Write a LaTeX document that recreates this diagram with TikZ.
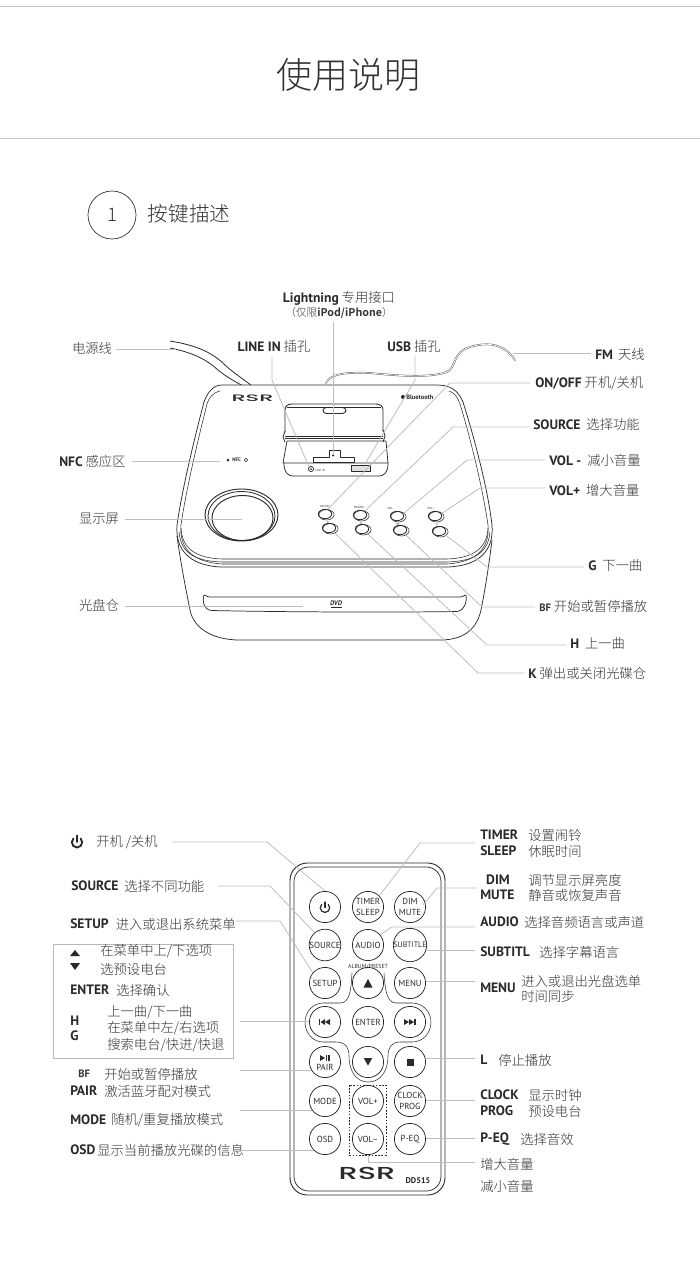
\documentclass[tikz,border=0pt]{standalone}
\usepackage{fontspec}
\setmainfont{Noto Sans CJK SC}[UprightFont=* Light]
\newfontfamily\ltnf{PT Sans}
\newfontfamily\btnf{PT Sans}
\newfontfamily\logof{Poppins}[UprightFont=* Medium]
\usetikzlibrary{shapes.geometric,arrows.meta}
\definecolor{ink}{HTML}{2A2A2A}
\definecolor{txt}{HTML}{333333}
\definecolor{callc}{HTML}{BEBEBE}
\newcommand{\ltn}[1]{{\ltnf\bfseries\fontsize{10.2pt}{12pt}\selectfont\color{ink}#1}}
\tikzset{
  call/.style={draw=callc,line width=0.6pt},
  body/.style={draw=ink,line width=0.55pt,line join=round},
  thin body/.style={draw=ink,line width=0.4pt},
  lb/.style={anchor=west,inner sep=0pt,text=txt,font=\fontsize{10pt}{12pt}\selectfont},
  lc/.style={anchor=center,inner sep=0pt,text=txt,font=\fontsize{10pt}{12pt}\selectfont},
  rbtn/.style={circle,draw=ink,line width=0.55pt,minimum size=23.4pt,inner sep=0pt,text=ink,align=center,font=\btnf\fontsize{6.6pt}{7.8pt}\selectfont},
  dbtn/.style={ellipse,draw=ink,line width=0.6pt,minimum width=10pt,minimum height=7pt,inner sep=0pt},
  dtiny/.style={inner sep=0pt,text=ink,font=\btnf\fontsize{2.2pt}{2.6pt}\selectfont},
  glyph/.style={fill=ink,draw=none},
}
\begin{document}
\begin{tikzpicture}[x=0.75pt,y=-0.75pt]
\useasboundingbox (0,0) rectangle (700,1265);
% header
\coordinate (r1a) at (0,6); \coordinate (r1b) at (700,6);
\coordinate (r2a) at (0,138); \coordinate (r2b) at (700,138);
\draw[draw=black!22,line width=0.6pt] (r1a) -- (r1b);
\draw[draw=black!22,line width=0.6pt] (r2a) -- (r2b);
\node[inner sep=0pt,text=txt,font=\fontsize{27pt}{30pt}\selectfont] (title) at (348,75) {使用说明};
\node[circle,draw=ink,line width=0.5pt,minimum size=36pt,inner sep=0pt,text=txt,font=\fontsize{14pt}{16pt}\selectfont] (num) at (112,215) {1};
\node[inner sep=0pt,text=txt,font=\fontsize{15.4pt}{18pt}\selectfont] (sec) at (189,214) {按键描述};

% ---------- device ----------
% power cord
\draw[body,line width=0.6pt] (170,341) .. controls (195,345) and (212,352) .. (225,365) .. controls (236,375) and (245,380) .. (252,386);
\draw[body,line width=0.6pt] (170,348) .. controls (190,352) and (205,358) .. (218,370) .. controls (228,378) and (236,382) .. (243,386);
% FM wire
\draw[draw=ink!75,line width=1.3pt,line cap=round] (326,383) .. controls (330,374) and (345,372) .. (370,373) .. controls (400,376) and (430,378) .. (447,372) .. controls (457,367) and (452,352) .. (470,347) .. controls (490,341) and (505,345) .. (515,360);
\draw[draw=white,line width=0.55pt,line cap=round] (326,383) .. controls (330,374) and (345,372) .. (370,373) .. controls (400,376) and (430,378) .. (447,372) .. controls (457,367) and (452,352) .. (470,347) .. controls (490,341) and (505,345) .. (515,360);
% lower body
\draw[body] (177,536) .. controls (181,565) and (186,590) .. (190,610) .. controls (194,630) and (215,640) .. (240,640) -- (440,640) .. controls (465,640) and (477,628) .. (481,610) .. controls (485,590) and (489,565) .. (492,540);
% top shell outer
\draw[body,fill=white] (222,385) -- (437,385) .. controls (450,385) and (458,390) .. (463,402) .. controls (475,440) and (488,490) .. (492,525) .. controls (494,550) and (480,566) .. (447,567) -- (222,567) .. controls (190,566) and (175,550) .. (177,525) .. controls (182,490) and (194,440) .. (204,402) .. controls (208,391) and (214,385) .. (222,385) -- cycle;
% top shell inner lines
\draw[thin body] (220,391) .. controls (212,393) and (209,398) .. (207,404) .. controls (198,440) and (186,490) .. (181,525) .. controls (179,548) and (192,562) .. (222,564) -- (447,564) .. controls (477,562) and (490,548) .. (488,525) .. controls (483,490) and (471,440) .. (460,404) .. controls (458,398) and (455,393) .. (449,391);
\draw[thin body] (181,528) .. controls (182,548) and (195,558) .. (222,559) -- (447,559) .. controls (474,558) and (487,548) .. (488,528);
\draw[thin body] (179,532) .. controls (181,554) and (196,561) .. (222,562) -- (447,562) .. controls (473,561) and (488,554) .. (490,532);
% logo
\node[inner sep=0pt,text=ink,font=\logof\fontsize{7pt}{8pt}\selectfont,xscale=2.4] (rsrtop) at (252.5,398.5) {RSR};
\node[inner sep=0pt,text=ink,anchor=west,font=\btnf\bfseries\fontsize{4.8pt}{5pt}\selectfont] (bt) at (406,397) {Bluetooth};
\fill[ink] (403,397) circle (2);
% dock back panel
\draw[body,line width=0.65pt] (285,432) -- (285,410) .. controls (285,406) and (288,404) .. (292,404) -- (376,404) .. controls (380,404) and (383,406) .. (383,410) -- (383,431);
\draw[thin body] (287,407) -- (381,407);
\draw[body,line width=0.65pt,rounded corners=2.5pt] (323,407.5) rectangle (346,413.5);
% dock bases
\draw[body,line width=0.6pt] (285,431) -- (283,437) -- (285,442);
\draw[body,line width=0.6pt] (383,430) -- (385,436) -- (383,442);
\draw[body,line width=0.7pt] (285,436) -- (383,436);
\draw[thin body] (285,438.5) -- (383,438.5);
\draw[body] (287,441) -- (386,441) -- (388,463) -- (283,463) -- (287,441);
\draw[body] (284,463) .. controls (284,472) and (287,476) .. (294,476) -- (378,476) .. controls (385,476) and (388,472) .. (388,463);
% connector
\draw[body] (313,462) -- (313,457) -- (329,457) -- (329,450) -- (340,450) -- (340,457) -- (354,457) -- (354,462) -- cycle;
\fill[ink] (333,455.5) circle (1.2);
% line in jack
\draw[body] (311,469) circle (2.6);
\fill[ink] (311,469) circle (1);
\node[dtiny,anchor=west] (jack) at (315,470) {LINE IN};
% USB
\draw[body,fill=black!12] (351,465) rectangle (370,471);
% NFC
\fill[ink] (228,460) circle (1.5);
\node[dtiny,anchor=west,font=\btnf\bfseries\fontsize{3.8pt}{4pt}\selectfont] (nfc) at (232,460) {NFC};
\draw[ink,line width=0.35pt] (246,460) circle (1.7);
% dial
\draw[body,line width=0.7pt] (241.5,515) ellipse (36.5 and 26);
\draw[body,line width=0.6pt] (241.5,516) ellipse (33.5 and 24.5);
\draw[body,line width=0.7pt] (242.5,518) ellipse (30.5 and 22.5);
% device buttons
\foreach \nm/\xx/\yy in {da/325/514,db/360/515,dc/397/516,dd/435/516,de/329/528,df/362/529,dg/400/530,dh/439/531}{
  \node[dbtn] (\nm) at (\xx,\yy) {};
  \draw[thin body] (\xx+1.5,\yy+0.8) ellipse (7.6 and 5.2);
}
\node[dtiny] (dta) at (325,506.5) {ON/OFF};
\node[dtiny] (dtb) at (359,507) {SOURCE};
\node[dtiny] (dtc) at (391,508) {VOL -};
\node[dtiny] (dtd) at (431,508) {VOL +};
\node[dtiny] (dte) at (328,522) {K};
\node[dtiny] (dtf) at (361,523) {H};
\node[dtiny] (dtg) at (398,524) {BF};
\node[dtiny] (dth) at (437,524) {G};
% disc slot
\draw[body] (204,595) .. controls (202,600) and (203,610) .. (212,610.5) .. controls (280,612) and (390,612.5) .. (457,611.5) .. controls (466,610) and (467,600) .. (466,595) .. controls (465,594) and (464,597) .. (460,597) -- (210,597) .. controls (206,597) and (205,594) .. (204,595) -- cycle;
\node[inner sep=0pt,text=ink,font=\btnf\bfseries\itshape\fontsize{5pt}{5pt}\selectfont] (dvd) at (336,603.5) {DVD};
\draw[ink,line width=0.7pt] (331,607) -- (342,607);

% callouts of the device
\node[lc] (lightning) at (339,298) {\ltn{Lightning} 专用接口};
\node[lc,font=\fontsize{8pt}{10pt}\selectfont] (lightning2) at (339,312.5) {（仅限\textbf{iPod/iPhone}）};
\node[lc] (power) at (92,348) {电源线};
\node[lc] (linein) at (274,346) {\ltn{LINE IN} 插孔};
\node[lc] (usb) at (414,346) {\ltn{USB} 插孔};
\node[lb] (fm) at (595,354) {\ltn{FM}\hspace{1.5pt} 天线};
\node[lb] (onoff) at (535,383) {\ltn{ON/OFF} 开机/关机};
\node[lb] (source) at (533,424) {\ltn{SOURCE}\ \ 选择功能};
\node[lb] (volm) at (549,460) {\ltn{VOL -}\ \ 减小音量};
\node[lb] (volp) at (549,490) {\ltn{VOL+}\ \ 增大音量};
\node[lb] (gl) at (588,566) {\ltn{G}\ \ 下一曲};
\node[lb] (bfl) at (539,606) {{\ltnf\fontsize{8pt}{10pt}\selectfont\bfseries BF} 开始或暂停播放};
\node[lb] (hl) at (570,644) {\ltn{H}\ \ 上一曲};
\node[lb] (kl) at (528,673) {\ltn{K}\ 弹出或关闭光碟仓};
\node[lb] (nfcl) at (59,461) {\ltn{NFC} 感应区};
\node[lc] (disp) at (99,519) {显示屏};
\node[lc] (discl) at (99,605) {光盘仓};

\coordinate (a1) at (333,322); \coordinate (a2) at (333,454);
\draw[call] (a1) -- (a2);
\coordinate (b1) at (116,349); \coordinate (b2) at (176,349);
\draw[call] (b1) -- (b2);
\coordinate (c1) at (272,357); \coordinate (c2) at (272,380); \coordinate (c3) at (309,467);
\draw[call] (c1) -- (c2) -- (c3);
\coordinate (d1) at (415,356); \coordinate (d2) at (415,380); \coordinate (d3) at (365,464);
\draw[call] (d1) -- (d2) -- (d3);
\coordinate (e1) at (513,353); \coordinate (e2) at (591,353);
\draw[call] (e1) -- (e2);
\coordinate (f1) at (530,383); \coordinate (f2) at (450,383);
\draw[call] (f1) -- (f2) -- (da.60);
\coordinate (g1) at (529,427); \coordinate (g2) at (453,427);
\draw[call] (g1) -- (g2) -- (db.40);
\coordinate (h1) at (545,460); \coordinate (h2) at (467,460);
\draw[call] (h1) -- (h2) -- (dc.20);
\coordinate (i1) at (545,488); \coordinate (i2) at (480,488);
\draw[call] (i1) -- (i2) -- (dd.20);
\coordinate (j1) at (584,567); \coordinate (j2) at (487,567);
\draw[call] (j1) -- (j2) -- (dh.-30);
\coordinate (k1) at (535,607); \coordinate (k2) at (482,607);
\draw[call] (k1) -- (k2) -- (dg.-40);
\coordinate (l1) at (566,645); \coordinate (l2) at (487,645);
\draw[call] (l1) -- (l2) -- (df.-40);
\coordinate (m1) at (524,673); \coordinate (m2) at (478,673);
\draw[call] (m1) -- (m2) -- (de.-40);
\coordinate (n1) at (132,461); \coordinate (n2) at (220,461);
\draw[call] (n1) -- (n2);
\coordinate (o1) at (125,519); \coordinate (o2) at (242,519);
\draw[call] (o1) -- (o2);
\coordinate (p1) at (125,606); \coordinate (p2) at (303,606);
\draw[call] (p1) -- (p2);

% ---------- remote ----------
\draw[body,line width=0.7pt,rounded corners=13pt] (290,863) rectangle (445,1195);
\draw[body,line width=0.55pt,rounded corners=11pt] (294,867) rectangle (441,1191);
% nav loop
\draw[thin body] (352,973) .. controls (351,990) and (350,1003) .. (340,1003) -- (323,1003) .. controls (313,1003) and (305,1012) .. (305,1022) .. controls (305,1033) and (313,1042) .. (323,1042) -- (336,1042) .. controls (346,1042) and (349,1048) .. (349,1056) .. controls (349,1072) and (357,1082) .. (368,1082) .. controls (380,1082) and (388,1072) .. (388,1056) .. controls (388,1048) and (391,1042) .. (400,1042) -- (412,1042) .. controls (423,1042) and (431,1033) .. (431,1022) .. controls (431,1012) and (423,1003) .. (412,1003) -- (396,1003) .. controls (387,1003) and (385,990) .. (384,973);
\draw[thin body,dashed,dash pattern=on 1.2pt off 1.2pt] (349,1085) rectangle (386,1155);
\node[inner sep=0pt,text=txt,font=\btnf\fontsize{4.4pt}{5pt}\selectfont] (album) at (368,967) {ALBUM/PRESET};
\node[rbtn] (pwr) at (325,907) {};
\node[rbtn] (timer) at (368,907) {TIMER\\SLEEP};
\node[rbtn] (dim) at (410,907) {DIM\\MUTE};
\node[rbtn] (src) at (325,945) {SOURCE};
\node[rbtn] (aud) at (368,945) {AUDIO};
\node[rbtn] (sub) at (410,945) {\fontsize{5.9pt}{7pt}\selectfont SUBTITLE};
\node[rbtn] (set) at (325,983) {SETUP};
\node[rbtn] (up) at (368,983) {};
\node[rbtn] (menu) at (410,983) {MENU};
\node[rbtn] (prv) at (325,1022) {};
\node[rbtn] (ent) at (368,1022) {ENTER};
\node[rbtn] (nxt) at (410,1022) {};
\node[rbtn] (pair) at (325,1062) {};
\node[inner sep=0pt,text=ink,font=\btnf\fontsize{6.6pt}{7.8pt}\selectfont] (pairt) at (325,1067) {PAIR};
\node[rbtn] (dn) at (368,1062) {};
\node[rbtn] (stp) at (410,1062) {};
\node[rbtn] (mode) at (325,1101) {MODE};
\node[rbtn] (vup) at (368,1101) {VOL+};
\node[rbtn] (clk) at (410,1101) {CLOCK\\PROG};
\node[rbtn] (osd) at (325,1139) {OSD};
\node[rbtn] (vdn) at (368,1139) {VOL–};
\node[rbtn] (peq) at (410,1139) {P-EQ};
% button glyphs
\draw[ink,line width=0.9pt,line cap=round] (328.3,904.4) arc[start angle=-45,end angle=225,radius=4.7];
\draw[ink,line width=0.9pt,line cap=round] (325,902) -- (325,907.5);
\fill[glyph] (368,979) -- (372.5,987.5) -- (363.5,987.5) -- cycle;
\fill[glyph] (368,1065.5) -- (372.3,1058) -- (363.7,1058) -- cycle;
\fill[glyph] (406.8,1058.5) rectangle (414.2,1065.8);
\fill[glyph] (319,1019) rectangle (320.3,1025);
\fill[glyph] (320.5,1022) -- (325,1019) -- (325,1025) -- cycle;
\fill[glyph] (325,1022) -- (330,1019) -- (330,1025) -- cycle;
\fill[glyph] (404,1019) -- (409,1022) -- (404,1025) -- cycle;
\fill[glyph] (409,1019) -- (414,1022) -- (409,1025) -- cycle;
\fill[glyph] (414.2,1019) rectangle (415.5,1025);
\fill[glyph] (320,1055) -- (325,1058) -- (320,1061) -- cycle;
\fill[glyph] (326,1055) rectangle (327.2,1061);
\fill[glyph] (328.4,1055) rectangle (329.6,1061);
% remote brand
\node[inner sep=0pt,text=ink,font=\logof\fontsize{13pt}{14pt}\selectfont,xscale=1.75] (rsrr) at (367,1173) {RSR};
\node[inner sep=0pt,text=ink,font=\ltnf\bfseries\fontsize{6.2pt}{7pt}\selectfont] (model) at (418,1181) {DD515};

% left labels of the remote
\draw[ink,line width=1.4pt,line cap=round] (80.7,838.6) arc[start angle=-45,end angle=225,radius=5.2];
\draw[ink,line width=1.4pt,line cap=round] (77,835.5) -- (77,842);
\node[lb] (t1) at (96,842) {开机 /关机};
\node[lb] (t2a) at (71,886) {\ltn{SOURCE}};
\node[lb] (t2b) at (124,886) {选择不同功能};
\node[lb] (t3a) at (70,924) {\ltn{SETUP}};
\node[lb] (t3b) at (115.5,924) {进入或退出系统菜单};
\draw[draw=black!28,line width=0.6pt] (53,944) rectangle (233,1058);
\fill[glyph] (75,950) -- (80,956) -- (70,956) -- cycle;
\fill[glyph] (75,970) -- (80,963) -- (70,963) -- cycle;
\node[lb] (t4) at (100,951) {在菜单中上/下选项};
\node[lb] (t5) at (100,969) {选预设电台};
\node[lb] (t6a) at (70,990) {\ltn{ENTER}};
\node[lb] (t6b) at (116,990) {选择确认};
\node[lb] (t7) at (70,1021) {\ltn{H}};
\node[lb] (t8) at (70,1036) {\ltn{G}};
\node[lb] (t9) at (107,1012) {上一曲/下一曲};
\node[lb] (t10) at (107,1028) {在菜单中左/右选项};
\node[lb] (t11) at (107,1045) {搜索电台/快进/快退};
\node[lb] (t12) at (78,1074) {{\ltnf\fontsize{8pt}{10pt}\selectfont\bfseries BF}};
\node[lb] (t13) at (104,1074) {开始或暂停播放};
\node[lb] (t14) at (70,1091) {\ltn{PAIR}};
\node[lb] (t15) at (104,1091) {激活蓝牙配对模式};
\node[lb] (t16) at (70,1120) {\ltn{MODE}};
\node[lb] (t17) at (111,1120) {随机/重复播放模式};
\node[lb] (t18) at (70,1150) {\ltn{OSD}};
\node[lb] (t19) at (97,1150) {显示当前播放光碟的信息};
% right labels of the remote
\node[lb] (u1) at (480,835) {\ltn{TIMER}};
\node[lb] (u2) at (480,851) {\ltn{SLEEP}};
\node[lb] (u3) at (528,835) {设置闹铃};
\node[lb] (u4) at (528,851) {休眠时间};
\node[lc] (u5) at (498,880) {\ltn{DIM}};
\node[lb] (u6) at (480,895) {\ltn{MUTE}};
\node[lb] (u7) at (528,880) {调节显示屏亮度};
\node[lb] (u8) at (528,895) {静音或恢复声音};
\node[lb] (u9) at (480,922) {\ltn{AUDIO}};
\node[lb] (u10) at (524,922) {选择音频语言或声道};
\node[lb] (u11) at (480,952) {\ltn{SUBTITL}};
\node[lb] (u12) at (539,952) {选择字幕语言};
\node[lb] (u13) at (480,988) {\ltn{MENU}};
\node[lb] (u14) at (521,981) {进入或退出光盘选单};
\node[lb] (u15) at (521,996) {时间同步};
\node[lb] (u16) at (480,1060) {\ltn{L}};
\node[lb] (u17) at (498,1060) {停止播放};
\node[lb] (u18) at (480,1095) {\ltn{CLOCK}};
\node[lb] (u19) at (480,1111) {\ltn{PROG}};
\node[lb] (u20) at (528,1095) {显示时钟};
\node[lb] (u21) at (528,1111) {预设电台};
\node[lb] (u22) at (480,1139) {\ltn{P-EQ}};
\node[lb] (u23) at (520,1139) {选择音效};
\node[lb] (u24) at (480,1164) {增大音量};
\node[lb] (u25) at (480,1186) {减小音量};
% callouts of the remote
\coordinate (q1) at (172,842); \coordinate (q2) at (267,842);
\draw[call] (q1) -- (q2) -- (pwr.north);
\coordinate (q3) at (218,886); \coordinate (q4) at (270,886);
\draw[call] (q3) -- (q4) -- (src.130);
\coordinate (q5) at (236,921); \coordinate (q6) at (280,921);
\draw[call] (q5) -- (q6) -- (set.140);
\coordinate (q7) at (240,1021);
\draw[call] (q7) -- (q7 -| prv.west);
\coordinate (q8) at (240,1070);
\draw[call] (q8) -- (q8 -| pair.211);
\coordinate (q9) at (240,1110);
\draw[call] (q9) -- (q9 -| mode.215);
\coordinate (q10) at (240,1150);
\draw[call] (q10) -- (q10 -| osd.225);
\coordinate (w1) at (475,843); \coordinate (w2) at (420,843);
\draw[call] (w1) -- (w2) -- (timer.45);
\coordinate (w3) at (477,888); \coordinate (w4) at (437,888); \coordinate (w5) at (423,905);
\draw[call] (w3) -- (w4) -- (w5);
\coordinate (w6) at (475,927); \coordinate (w7) at (392,927);
\draw[call] (w6) -- (w7) -- (aud.40);
\coordinate (w8) at (475,950);
\draw[call] (w8) -- (w8 -| sub.east);
\coordinate (w9) at (475,981);
\draw[call] (w9) -- (w9 -| menu.east);
\coordinate (w10) at (475,1058);
\draw[call] (w10) -- (w10 -| stp.east);
\coordinate (w11) at (475,1100);
\draw[call] (w11) -- (w11 -| clk.east);
\coordinate (w12) at (475,1138);
\draw[call] (w12) -- (w12 -| peq.east);
\coordinate (w13) at (368,1155); \coordinate (w14) at (368,1162); \coordinate (w15) at (475,1162);
\draw[call] (w13) -- (w14) -- (w15);
\end{tikzpicture}
\end{document}
